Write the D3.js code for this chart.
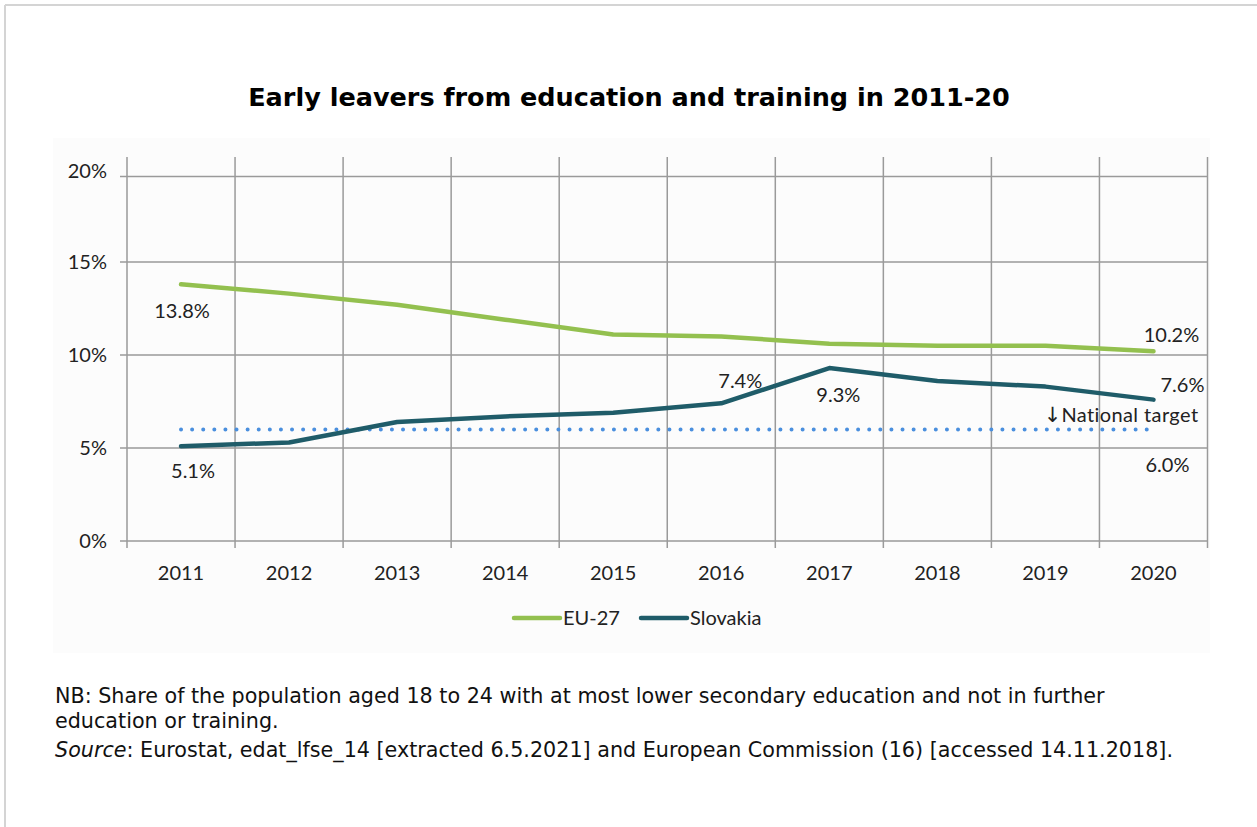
<!DOCTYPE html>
<html>
<head>
<meta charset="utf-8">
<script src="https://cdn.jsdelivr.net/npm/d3@7"></script>
<style>
  html, body { margin: 0; padding: 0; background: #fff; }
  svg { display: block; }
</style>
</head>
<body>
<svg id="chart" width="1257" height="827"></svg>
<script>
// Data
const years = [2011, 2012, 2013, 2014, 2015, 2016, 2017, 2018, 2019, 2020];
const eu27 = [13.8, 13.3, 12.7, 11.9, 11.1, 11.0, 10.6, 10.5, 10.5, 10.2];
const slovakia = [5.1, 5.3, 6.4, 6.7, 6.9, 7.4, 9.3, 8.6, 8.3, 7.6];
const nationalTarget = 6.0;
const yTicks = [0, 5, 10, 15, 20];
const seriesNames = ["EU-27", "Slovakia"];

const svg = d3.select("#chart");
const labelFont = "Lato, 'Open Sans', sans-serif";
const labelSize = 20;
const textFont = "'DejaVu Sans', sans-serif";

// Page frame (left and top edges)
svg.append("line").attr("x1", 5).attr("y1", 5).attr("x2", 1257).attr("y2", 5)
  .attr("stroke", "#d4d4d4").attr("stroke-width", 2);
svg.append("line").attr("x1", 5).attr("y1", 5).attr("x2", 5).attr("y2", 827)
  .attr("stroke", "#d4d4d4").attr("stroke-width", 2);

// Title
svg.append("text").attr("x", 629).attr("y", 106).attr("text-anchor", "middle")
  .attr("font-family", textFont).attr("font-weight", "bold").attr("font-size", 25.5)
  .attr("fill", "#000").text("Early leavers from education and training in 2011-20");

// Chart panel
svg.append("rect").attr("x", 53).attr("y", 138).attr("width", 1157).attr("height", 515)
  .attr("fill", "#fcfcfc");

const plotLeft = 127, plotRight = 1207.5;
const x = d3.scaleBand().domain(years).range([plotLeft, plotRight]).paddingInner(0).paddingOuter(0);
const y = d3.scaleLinear().domain([0, 15, 20]).range([541, 262, 176.5]);
const cx = d => x(d) + x.bandwidth() / 2;

const grid = svg.append("g").attr("stroke", "#9a9a9a").attr("stroke-width", 1.5);
// Horizontal gridlines and y ticks
yTicks.forEach(t => {
  grid.append("line").attr("x1", plotLeft - 7).attr("x2", plotRight)
    .attr("y1", y(t)).attr("y2", y(t));
});
// Vertical gridlines at category boundaries
const bounds = years.map(yr => x(yr)).concat([plotRight]);
bounds.forEach(b => {
  grid.append("line").attr("x1", b).attr("x2", b).attr("y1", 157).attr("y2", y(0) + 7);
});

// Y axis labels
svg.append("g").selectAll("text").data(yTicks).join("text")
  .attr("x", 107).attr("y", d => y(d) - (d === 20 ? 6 : 0)).attr("dy", "0.35em")
  .attr("text-anchor", "end").attr("font-family", labelFont).attr("font-size", labelSize)
  .attr("fill", "#222").text(d => d + "%");

// X axis labels
svg.append("g").selectAll("text").data(years).join("text")
  .attr("x", d => cx(d)).attr("y", 573).attr("dy", "0.35em")
  .attr("text-anchor", "middle").attr("font-family", labelFont).attr("font-size", labelSize)
  .attr("fill", "#222").text(d => d);

// National target (dotted)
svg.append("line")
  .attr("x1", cx(years[0])).attr("x2", cx(years[years.length - 1]))
  .attr("y1", y(nationalTarget)).attr("y2", y(nationalTarget))
  .attr("stroke", "#4a8fde").attr("stroke-width", 4)
  .attr("stroke-linecap", "round").attr("stroke-dasharray", "0 11.1");

const line = d3.line().x((d, i) => cx(years[i])).y(d => y(d));
const colors = { "EU-27": "#93c04f", "Slovakia": "#1f5c69" };

svg.append("path").datum(eu27).attr("d", line).attr("fill", "none")
  .attr("stroke", colors["EU-27"]).attr("stroke-width", 4.5)
  .attr("stroke-linecap", "round").attr("stroke-linejoin", "round");
svg.append("path").datum(slovakia).attr("d", line).attr("fill", "none")
  .attr("stroke", colors["Slovakia"]).attr("stroke-width", 4.5)
  .attr("stroke-linecap", "round").attr("stroke-linejoin", "round");

// Data labels
const fmt = v => v.toFixed(1) + "%";
const labels = [
  { xi: 0, v: eu27[0], dx: 1, dy: 27 },
  { xi: 9, v: eu27[9], dx: 18, dy: -16 },
  { xi: 0, v: slovakia[0], dx: 12, dy: 25 },
  { xi: 5, v: slovakia[5], dx: 19, dy: -22 },
  { xi: 6, v: slovakia[6], dx: 9, dy: 27 },
  { xi: 9, v: slovakia[9], dx: 29, dy: -15 },
  { xi: 9, v: nationalTarget, dx: 14, dy: 36 }
];
svg.append("g").selectAll("text").data(labels).join("text")
  .attr("x", d => cx(years[d.xi]) + d.dx).attr("y", d => y(d.v) + d.dy).attr("dy", "0.35em")
  .attr("text-anchor", "middle").attr("font-family", labelFont).attr("font-size", labelSize)
  .attr("fill", "#222").text(d => fmt(d.v));

// Target annotation with a full-height arrow
const target = svg.append("text").attr("x", cx(2020) + 45).attr("y", y(nationalTarget) - 14).attr("dy", "0.35em")
  .attr("text-anchor", "end")
  .attr("font-family", labelFont).attr("font-size", labelSize).attr("fill", "#222");
target.append("tspan").attr("font-family", textFont).attr("font-size", 21).text("\u2193");
target.append("tspan").attr("letter-spacing", 0.4).text("National target");

// Legend
const legend = svg.append("g");
const legendItems = [
  { name: seriesNames[0], x0: 514 },
  { name: seriesNames[1], x0: 641 }
];
legendItems.forEach(it => {
  legend.append("line").attr("x1", it.x0).attr("x2", it.x0 + 46).attr("y1", 618).attr("y2", 618)
    .attr("stroke", colors[it.name]).attr("stroke-width", 4.5).attr("stroke-linecap", "round");
  legend.append("text").attr("x", it.x0 + 49).attr("y", 618).attr("dy", "0.35em")
    .attr("font-family", labelFont).attr("font-size", labelSize).attr("fill", "#222").text(it.name);
});

// Footnote
const note = svg.append("g").attr("font-family", textFont).attr("font-size", 20.7).attr("fill", "#111");
note.append("text").attr("x", 55).attr("y", 703)
  .text("NB: Share of the population aged 18 to 24 with at most lower secondary education and not in further");
note.append("text").attr("x", 55).attr("y", 728).text("education or training.");
const src = note.append("text").attr("x", 55).attr("y", 757);
src.append("tspan").attr("font-style", "italic").text("Source");
src.append("tspan").text(": Eurostat, edat_lfse_14 [extracted 6.5.2021] and European Commission (16) [accessed 14.11.2018].");
</script>
</body>
</html>
